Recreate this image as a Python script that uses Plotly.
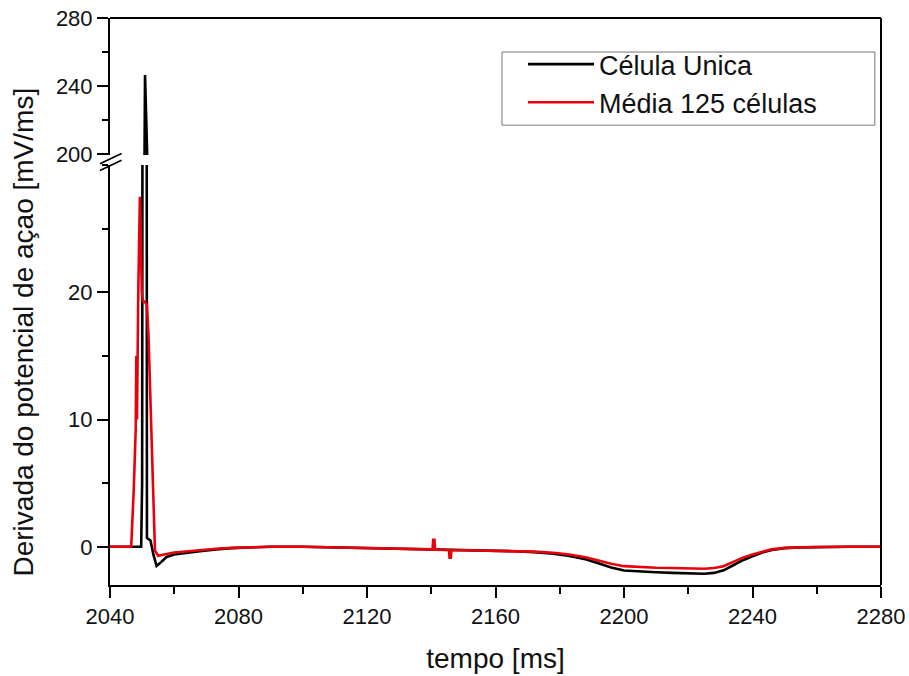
import plotly.graph_objects as go

# ---- data ----
t_unica = [2040, 2049.7, 2050.0, 2050.5, 2050.9, 2051.2, 2051.5, 2052.0, 2052.6, 2053.5,
           2054.5, 2055.5, 2057.6, 2060, 2064, 2068, 2073, 2078, 2085, 2090,
           2100, 2110, 2120, 2130, 2140, 2150, 2160, 2166, 2172, 2178,
           2183, 2188, 2192, 2196, 2200, 2205, 2210, 2215, 2220, 2225,
           2228, 2231, 2234, 2237, 2240, 2243, 2246, 2250, 2255, 2260,
           2270, 2280]
v_unica = [0, 0, 5, 120, 246.5, 140, 0.7, 0.6, 0.5, -0.6,
           -1.5, -1.3, -0.8, -0.6, -0.45, -0.35, -0.2, -0.1, -0.03, 0,
           0, -0.05, -0.12, -0.18, -0.22, -0.26, -0.3, -0.35, -0.42, -0.55,
           -0.72, -0.98, -1.3, -1.62, -1.86, -1.95, -2.0, -2.05, -2.1, -2.12,
           -2.05, -1.85, -1.45, -1.05, -0.75, -0.45, -0.25, -0.1, -0.04, -0.02,
           0, 0]

t_media = [2040, 2046.6, 2047.4, 2048.0, 2048.2, 2048.4, 2048.8, 2049.3, 2049.6, 2049.9,
           2050.2, 2050.6, 2051.0, 2051.5, 2052.0, 2052.7, 2053.4, 2054.0, 2055.0, 2056.5,
           2058, 2060, 2064, 2068, 2073, 2078, 2085, 2090, 2100, 2110,
           2120, 2130, 2140, 2140.4, 2140.6, 2141.0, 2141.2, 2145.5, 2145.7, 2146.1,
           2146.3, 2150, 2160, 2166, 2172, 2178, 2183, 2188, 2192, 2196,
           2200, 2205, 2210, 2215, 2220, 2225, 2228, 2231, 2234, 2237,
           2240, 2243, 2246, 2250, 2255, 2260, 2270, 2280]
v_media = [0, 0, 4.5, 9.2, 15, 10, 20, 27.5, 24, 20,
           19.3, 19.3, 19.2, 19.0, 16.5, 10, 3.5, -0.3, -0.7, -0.6,
           -0.55, -0.45, -0.35, -0.25, -0.15, -0.08, -0.02, 0, 0, -0.05,
           -0.1, -0.15, -0.2, -0.2, 0.55, 0.55, -0.22, -0.25, -0.85, -0.85,
           -0.25, -0.26, -0.3, -0.33, -0.38, -0.47, -0.6, -0.82, -1.08, -1.33,
           -1.52, -1.6, -1.64, -1.67, -1.7, -1.72, -1.67, -1.52, -1.18, -0.85,
           -0.6, -0.38, -0.2, -0.08, -0.04, -0.02, 0, 0]

names = ["Célula Unica", "Média 125 células"]
colors = ["#000000", "#e8000b"]

x_ticks = [2040, 2080, 2120, 2160, 2200, 2240, 2280]
y_low_ticks = [0, 10, 20]
y_high_ticks = [200, 240, 280]

FONT = "Liberation Sans, Arial, sans-serif"

fig = go.Figure()
# lower panel
fig.add_trace(go.Scatter(x=t_unica, y=v_unica, mode="lines", name=names[0],
                         line=dict(color=colors[0], width=2.6), xaxis="x", yaxis="y"))
fig.add_trace(go.Scatter(x=t_media, y=v_media, mode="lines", name=names[1],
                         line=dict(color=colors[1], width=2.6), xaxis="x", yaxis="y"))
# upper panel (broken axis)
fig.add_trace(go.Scatter(x=t_unica, y=v_unica, mode="lines", name=names[0], showlegend=False,
                         line=dict(color=colors[0], width=2.6), xaxis="x", yaxis="y2"))
fig.add_trace(go.Scatter(x=t_media, y=v_media, mode="lines", name=names[1], showlegend=False,
                         line=dict(color=colors[1], width=2.6), xaxis="x", yaxis="y2"))

axis_common = dict(showline=True, linecolor="black", linewidth=2, ticks="outside",
                   tickcolor="black", tickwidth=2, showgrid=False, zeroline=False,
                   automargin=False,
                   tickfont=dict(family=FONT, size=22, color="#111"))

fig.update_layout(
    width=909, height=676,
    margin=dict(l=110, r=28, t=18, b=91),
    paper_bgcolor="white", plot_bgcolor="white",
    font=dict(family=FONT, color="#111"),
    xaxis=dict(range=[2040, 2280], tickvals=x_ticks, ticklen=11, anchor="y",
               minor=dict(dtick=20, tick0=2040, ticks="outside", ticklen=7,
                          tickcolor="black", tickwidth=2),
               title=dict(text="tempo [ms]", font=dict(family=FONT, size=28), standoff=20),
               **axis_common),
    yaxis=dict(range=[-3, 30], domain=[0, 0.7407], tickvals=y_low_ticks, ticklen=11,
               minor=dict(dtick=5, tick0=0, ticks="outside", ticklen=6,
                          tickcolor="black", tickwidth=2),
               anchor="x", **axis_common),
    yaxis2=dict(range=[199.5, 280], domain=[0.7584, 1], tickvals=y_high_ticks, ticklen=11,
                minor=dict(dtick=20, tick0=200, ticks="outside", ticklen=6,
                           tickcolor="black", tickwidth=2),
                anchor="x", **axis_common),
    legend=dict(x=0.5357, y=0.961, xanchor="left", yanchor="top",
                bgcolor="rgba(0,0,0,0)", borderwidth=0,
                font=dict(family=FONT, size=27, color="#111"),
                itemwidth=66, tracegroupgap=0),
    showlegend=True,
)

# legend frame
fig.add_shape(type="rect", xref="paper", yref="paper", x0=0.5084, x1=0.992, y0=0.811, y1=0.940,
              line=dict(color="#777", width=1), fillcolor="white", layer="above")
# frame: top and right border
fig.add_shape(type="line", xref="paper", yref="paper", x0=0, x1=1, y0=1, y1=1,
              line=dict(color="black", width=2))
fig.add_shape(type="line", xref="paper", yref="paper", x0=1, x1=1, y0=0, y1=1,
              line=dict(color="black", width=2))
# axis break marks
for y0, y1 in [(0.743, 0.761), (0.731, 0.749)]:
    fig.add_shape(type="line", xref="paper", yref="paper", x0=-0.013, x1=0.015,
                  y0=y0, y1=y1, line=dict(color="black", width=1.6))

fig.add_annotation(text="Derivada do potencial de açao [mV/ms]", xref="paper", yref="paper",
                   x=-0.135, y=0.446, textangle=-90, showarrow=False,
                   font=dict(family=FONT, size=28, color="#111"))

fig.write_html("out.html")
